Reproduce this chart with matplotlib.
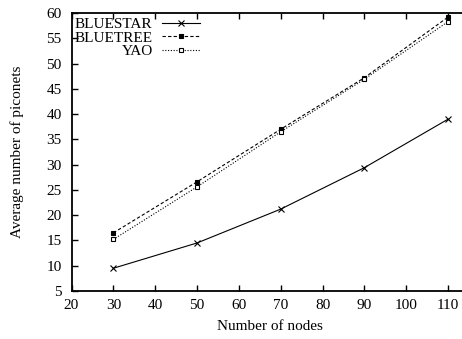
import matplotlib
matplotlib.use("Agg")
import matplotlib.pyplot as plt

nodes = [30, 50, 70, 90, 110]
bluestar = [9.5, 14.5, 21.2, 29.4, 39.0]
bluetree = [16.5, 26.6, 37.0, 47.2, 59.2]
yao = [15.2, 25.6, 36.5, 46.9, 58.3]

plt.rcParams['font.family'] = ['Liberation Serif', 'DejaVu Serif']
plt.rcParams['font.size'] = 11

fig = plt.figure(figsize=(4.62, 3.39), dpi=100)
ax = fig.add_axes([71.5 / 462, (339 - 291) / 339, 1 - 71.5 / 462, 278 / 339])

ax.plot(nodes, bluestar, color='black', lw=0.8, ls='-', marker='x', ms=4, mew=0.8, label='BLUESTAR')
ax.plot(nodes, bluetree, color='black', lw=0.8, ls=(0, (3, 2)), marker='s', ms=3.5, mew=0.8, label='BLUETREE')
ax.plot(nodes, yao, color='black', lw=0.8, ls=(0, (1, 1.5)), marker='s', ms=3.5, mew=0.8,
        markerfacecolor='white', label='YAO')

ax.set_xlim(20, 113.33)
ax.set_ylim(5, 60)
ax.set_xticks(range(20, 111, 10))
ax.set_yticks(range(5, 61, 5))
ax.tick_params(direction='in', length=4, width=1, top=True, right=False,
               labelsize=11)
ax.tick_params(axis='x', pad=6)
ax.tick_params(axis='y', pad=7)
for s in ax.spines.values():
    s.set_visible(False)
ax.axhline(60, color='black', lw=1.3, clip_on=False)
ax.axhline(5, color='black', lw=1.3, clip_on=False)
ax.axvline(20, color='black', lw=1.3, clip_on=False)

ax.set_xlabel('Number of nodes', fontsize=11)
ax.set_ylabel('Average number of piconets', fontsize=11)
ax.xaxis.set_label_coords(0.507, -0.126)
ax.yaxis.set_label_coords(-0.14, 0.5)
ax.xaxis.label.set_va('center')
ax.yaxis.label.set_va('center')

leg = ax.legend(loc='upper right', bbox_to_anchor=((200 - 71.5) / 390.5, 0.985),
                frameon=False, markerfirst=False, handlelength=2.5,
                handletextpad=0.6, labelspacing=0.0, borderpad=0, borderaxespad=0,
                fontsize=11)

fig.savefig('out.png', dpi=100)
